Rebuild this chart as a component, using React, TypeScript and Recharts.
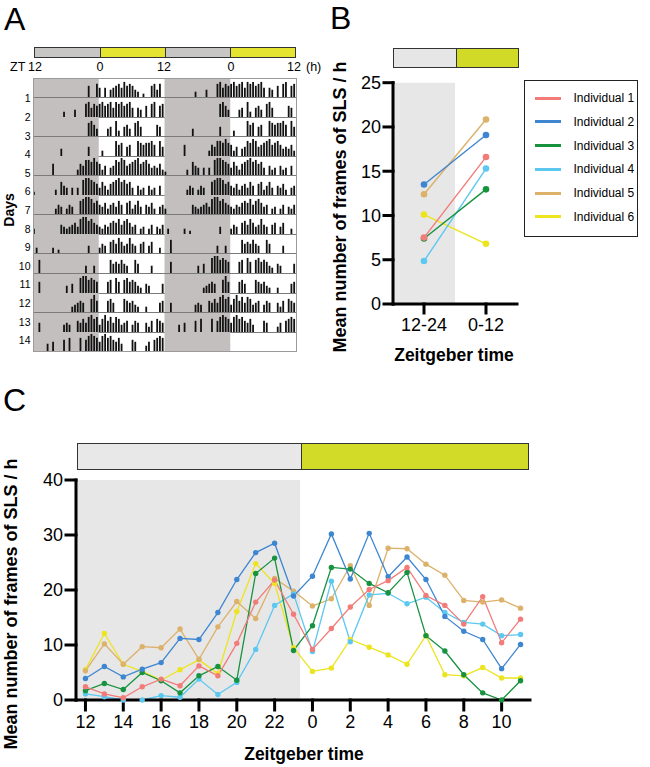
import React from 'react'
import { LineChart, Line, BarChart, Bar, XAxis, YAxis, ReferenceArea, ReferenceLine } from 'recharts'

const FONT = '"Liberation Sans", Arial, Helvetica, sans-serif'

// ---- shared series info ----
const individuals = ['Individual 1', 'Individual 2', 'Individual 3', 'Individual 4', 'Individual 5', 'Individual 6']
const colors = ['#f27c7a', '#3e86d0', '#17923f', '#5cc8f0', '#dcb16a', '#ece41e']

// ---- panel B: mean per phase ----
const phaseLabels = ['12-24', '0-12']
const phaseInd1 = [7.5, 16.6]
const phaseInd2 = [13.5, 19.1]
const phaseInd3 = [7.4, 12.95]
const phaseInd4 = [4.85, 15.3]
const phaseInd5 = [12.4, 20.85]
const phaseInd6 = [10.1, 6.8]

// ---- panel C: hourly means ----
const zeitgeberHours = [12, 13, 14, 15, 16, 17, 18, 19, 20, 21, 22, 23, 0, 1, 2, 3, 4, 5, 6, 7, 8, 9, 10, 11]
const hourTicks = [0, 2, 4, 6, 8, 10, 12, 14, 16, 18, 20, 22]
const hourInd1 = [2.4, 1.1, 0.4, 2.4, 3.8, 2.6, 6.2, 4.4, 10.3, 17.8, 21.8, 15.6, 9.2, 13.0, 16.9, 20.1, 21.7, 24.1, 19.0, 17.2, 13.8, 18.8, 10.4, 14.7]
const hourInd2 = [3.9, 6.1, 4.2, 5.6, 6.8, 11.2, 11.0, 15.9, 21.9, 26.8, 28.5, 18.9, 22.5, 30.2, 22.0, 30.3, 22.4, 26.0, 21.9, 15.2, 12.5, 11.0, 5.7, 10.1]
const hourInd3 = [1.7, 3.0, 1.9, 5.0, 3.5, 1.3, 4.4, 6.1, 3.6, 23.0, 25.8, 9.0, 13.5, 24.1, 23.8, 21.2, 19.5, 23.2, 11.7, 8.9, 4.6, 1.3, 0, 3.5]
const hourInd4 = [1.1, 0.6, 0, 0, 0.8, 0.5, 3.8, 1.0, 3.2, 9.2, 17.2, 19.3, 8.8, 21.6, 10.6, 19.1, 19.4, 17.5, 18.7, 15.9, 14.1, 13.8, 11.7, 11.9]
const hourInd5 = [5.3, 10.2, 6.5, 9.7, 9.5, 12.9, 7.4, 13.3, 17.9, 14.8, 22.1, 19.8, 17.1, 18.4, 24.4, 17.2, 27.6, 27.5, 24.7, 22.7, 18.1, 17.8, 18.2, 16.7]
const hourInd6 = [5.5, 12.1, 6.5, 5.2, 3.6, 5.5, 7.3, 4.8, 16.1, 24.8, 21.2, 9.5, 5.2, 5.8, 11.0, 9.6, 8.2, 6.5, 11.7, 4.6, 4.4, 5.9, 4.0, 4.0]

// ---- panel A: actogram, 48 half-hour bins per day starting at ZT12 ----
const actDay1 = [0,0,0,0,0,0,0,0,0,0, 0,0,0,0,0,0,0,0,0,0, 6,0,0,7,5,0,5,0,4,5, 6,7,5,8,6,7,6,4,3,0, 2,0,0,6,7,4,7,0]
const actDay2 = [0,0,0,0,0,0,0,0,0,0, 0,3,0,0,0,4,0,0,0,7, 8,5,7,6,7,8,6,7,8,5, 8,7,8,6,7,8,5,0,5,4, 0,6,0,7,8,0,6,7]
const actDay3 = [0,0,0,0,0,0,0,0,0,0, 0,0,0,0,0,0,0,0,0,0, 7,8,6,4,0,0,0,4,5,0, 8,3,0,5,6,4,0,7,8,5, 0,0,0,0,0,6,5,0]
const actDay4 = [0,0,0,0,0,0,0,0,0,0, 4,0,0,0,0,0,0,0,0,0, 5,0,0,0,0,3,0,0,0,0, 8,6,7,0,5,6,0,0,8,7, 6,7,7,8,6,0,8,5]
const actDay5 = [0,0,0,0,0,0,0,6,0,0, 0,0,0,0,0,0,3,6,5,8, 8,7,9,7,6,3,5,0,4,5, 8,7,9,8,5,6,7,8,9,6, 7,8,6,4,5,4,6,3]
const actDay6 = [2,0,0,0,0,0,0,0,3,0, 7,5,4,0,4,0,4,0,8,9, 9,8,7,6,4,7,5,3,6,7, 8,9,7,8,6,7,4,0,5,3, 4,0,5,3,4,0,5,0]
const actDay7 = [0,0,0,0,0,0,0,0,3,5, 4,0,3,5,4,0,0,7,8,9, 9,8,6,7,5,4,6,3,5,6, 4,7,5,0,6,7,3,5,7,4, 0,5,4,6,3,0,4,5]
const actDay8 = [3,0,0,0,0,0,0,0,0,0, 5,4,3,4,5,6,4,8,9,9, 7,8,6,5,4,3,5,4,6,7, 6,8,5,7,8,6,4,5,0,3, 4,0,3,5,0,4,3,5]
const actDay9 = [0,3,0,0,0,0,0,3,0,2, 0,0,0,0,0,0,0,0,0,0, 4,0,0,0,3,5,4,0,6,7, 5,8,6,4,5,8,5,4,0,5, 6,0,4,6,0,0,3,0]
const actDay10 = [0,0,7,0,0,0,0,0,0,0, 0,0,0,0,0,0,0,0,0,4, 0,0,4,0,0,0,0,0,7,5, 6,5,7,5,4,0,0,7,5,0, 0,0,0,4,0,0,0,0]
const actDay11 = [0,0,6,0,0,0,0,0,0,0, 0,0,4,0,5,0,0,8,9,9, 7,8,7,6,0,0,0,6,7,0, 8,6,0,7,8,6,7,6,4,3, 0,5,4,0,0,0,0,5]
const actDay12 = [0,0,0,0,0,0,0,0,0,0, 0,0,0,0,3,4,5,6,5,0, 0,7,9,6,0,0,0,6,7,5, 0,0,0,7,6,5,6,4,3,0, 0,3,0,0,0,0,5,6]
const actDay13 = [0,0,5,0,0,0,0,0,0,0, 0,4,5,4,0,0,6,5,7,5, 8,9,7,8,4,7,9,6,8,5, 8,7,4,5,6,0,4,6,5,0, 0,5,3,6,0,7,6,5]
const actDay14 = [0,0,0,0,0,4,0,5,0,0, 0,6,0,7,0,0,0,7,0,6, 8,9,8,7,5,8,9,7,8,6, 5,7,4,0,0,0,6,5,0,0, 0,3,5,0,6,7,8,7]
const actDays = [actDay1, actDay2, actDay3, actDay4, actDay5, actDay6, actDay7, actDay8, actDay9, actDay10, actDay11, actDay12, actDay13, actDay14]

const seriesKeys = ['ind1', 'ind2', 'ind3', 'ind4', 'ind5', 'ind6']
const phaseSeries = [phaseInd1, phaseInd2, phaseInd3, phaseInd4, phaseInd5, phaseInd6]
const hourSeries = [hourInd1, hourInd2, hourInd3, hourInd4, hourInd5, hourInd6]

const phaseData = phaseLabels.map((_, i) => {
  const row: Record<string, number> = { x: i + 0.5 }
  seriesKeys.forEach((k, s) => (row[k] = phaseSeries[s][i]))
  return row
})

const hourData = zeitgeberHours.map((_, i) => {
  const row: Record<string, number> = { x: i }
  seriesKeys.forEach((k, s) => (row[k] = hourSeries[s][i]))
  return row
})

// double plot: each row = day r then day r+1
const actRows = actDays.map((day, r) => {
  const next = actDays[r + 1]
  return Array.from({ length: 96 }, (_, k) => ({
    x: k + 0.5,
    v: k < 48 ? day[k] : next ? next[k - 48] : null,
  }))
})

// draw Individual 1 on top
const drawOrder = [5, 4, 3, 2, 1, 0]

const ROW_H = 19.55
const axisStyle = { stroke: '#000', strokeWidth: 3, strokeLinecap: 'square' as const }
const tickStyle = { fill: '#000', fontSize: 18, fontFamily: FONT }

const abs = (left: number, top: number, extra: React.CSSProperties = {}): React.CSSProperties => ({
  position: 'absolute',
  left,
  top,
  ...extra,
})

const VLabel = ({ text, cx, cy, size }: { text: string; cx: number; cy: number; size: number }) => (
  <div
    style={abs(cx, cy, {
      transform: 'translate(-50%, -50%) rotate(-90deg)',
      whiteSpace: 'nowrap',
      fontWeight: 'bold',
      fontSize: size,
      lineHeight: 1,
    })}
  >
    {text}
  </div>
)

const HLabel = ({ text, cx, cy, size, bold }: { text: string; cx: number; cy: number; size: number; bold?: boolean }) => (
  <div
    style={abs(cx, cy, {
      transform: 'translate(-50%, -50%)',
      whiteSpace: 'nowrap',
      fontWeight: bold ? 'bold' : 'normal',
      fontSize: size,
      lineHeight: 1,
    })}
  >
    {text}
  </div>
)

const LightBar = ({ left, top, width, height, split, dark, light }: any) => (
  <div
    style={abs(left, top, {
      width,
      height,
      boxSizing: 'border-box',
      border: '1.5px solid #333',
      display: 'flex',
    })}
  >
    {split.map((w: number, i: number) => (
      <div
        key={i}
        style={{
          width: w,
          height: '100%',
          background: i % 2 === 0 ? dark : light,
          borderLeft: i > 0 ? '1.5px solid #333' : 'none',
          boxSizing: 'border-box',
        }}
      />
    ))}
  </div>
)

function ActogramRow({ data }: { data: { x: number; v: number | null }[] }) {
  return (
    <BarChart width={263} height={20} data={data} margin={{ top: 0, right: 0, bottom: 0.45, left: 0 }}>
      <XAxis type="number" dataKey="x" domain={[0, 96]} hide />
      <YAxis domain={[0, 10]} hide />
      <ReferenceArea x1={0} x2={24} y1={0} y2={10} fill="#c3bfbf" fillOpacity={1} stroke="none" />
      <ReferenceArea x1={48} x2={72} y1={0} y2={10} fill="#c3bfbf" fillOpacity={1} stroke="none" />
      <Bar dataKey="v" fill="#111" barSize={1.8} isAnimationActive={false} />
      <ReferenceLine y={0} stroke="#7a7a7a" strokeWidth={1.2} />
    </BarChart>
  )
}

export default function App() {
  return (
    <div
      style={{
        position: 'absolute',
        left: 0,
        top: 0,
        width: 650,
        height: 767,
        background: '#fff',
        fontFamily: FONT,
        color: '#000',
        overflow: 'hidden',
      }}
    >
      {/* panel letters */}
      <div style={abs(4, 3, { fontSize: 32, lineHeight: '32px' })}>A</div>
      <div style={abs(330, 2, { fontSize: 32, lineHeight: '32px' })}>B</div>
      <div style={abs(3, 384, { fontSize: 32, lineHeight: '32px' })}>C</div>

      {/* ---- A ---- */}
      <LightBar left={34} top={46.5} width={262} height={11} split={[66, 65, 66, 65]} dark="#c8c5c5" light="#e4e431" />
      <div style={abs(10, 66.7, { fontSize: 12.5, lineHeight: 1, transform: 'translateY(-50%)' })}>ZT</div>
      {[35, 100, 164, 231, 294].map((x, i) => (
        <HLabel key={i} text={i % 2 === 0 ? '12' : '0'} cx={x} cy={66.7} size={12.5} />
      ))}
      <div style={abs(306, 66.7, { fontSize: 12.5, lineHeight: 1, transform: 'translateY(-50%)' })}>(h)</div>

      <div style={abs(33, 78, { width: 263, height: ROW_H * 14 })}>
        {actRows.map((row, r) => (
          <div key={r} style={abs(0, r * ROW_H)}>
            <ActogramRow data={row} />
          </div>
        ))}
        <div
          style={abs(-0.5, -0.5, {
            width: 264,
            height: ROW_H * 14 + 1,
            border: '1px solid #9a9a9a',
            boxSizing: 'border-box',
          })}
        />
      </div>
      {actDays.map((_, r) => (
        <div
          key={r}
          style={abs(0, 98.3 + 18.6 * r, {
            width: 30.5,
            textAlign: 'right',
            fontSize: 10.5,
            lineHeight: 1,
            transform: 'translateY(-50%)',
          })}
        >
          {r + 1}
        </div>
      ))}
      <VLabel text="Days" cx={9} cy={210} size={14} />

      {/* ---- B ---- */}
      <LightBar left={393} top={47.5} width={126} height={20} split={[63, 63]} dark="#e7e6e7" light="#d1da27" />
      <div style={abs(340, 60)}>
        <LineChart width={190} height={290} data={phaseData} margin={{ top: 22.7, right: 13, bottom: 0, left: 0 }}>
          <ReferenceArea x1={0} x2={1} y1={0} y2={25} fill="#e8e7e8" fillOpacity={1} stroke="none" />
          <XAxis
            type="number"
            dataKey="x"
            domain={[0, 2]}
            ticks={[0.5, 1.5]}
            tickFormatter={(v: number) => phaseLabels[Math.floor(v)]}
            height={46}
            axisLine={axisStyle}
            tickLine={axisStyle}
            tickSize={9}
            tickMargin={5}
            tick={tickStyle}
          />
          <YAxis
            domain={[0, 25]}
            ticks={[0, 5, 10, 15, 20, 25]}
            width={53}
            axisLine={axisStyle}
            tickLine={axisStyle}
            tickSize={9}
            tickMargin={3}
            tick={tickStyle}
          />
          {drawOrder.map((s) => (
            <Line
              key={seriesKeys[s]}
              type="linear"
              dataKey={seriesKeys[s]}
              stroke={colors[s]}
              strokeWidth={1.4}
              dot={{ r: 3.3, fill: colors[s], stroke: 'none' }}
              isAnimationActive={false}
            />
          ))}
        </LineChart>
      </div>
      <VLabel text="Mean number of frames of SLS / h" cx={340} cy={207} size={18} />
      <HLabel text="Zeitgeber time" cx={454} cy={356} size={17.5} bold />

      {/* legend B */}
      <div
        style={abs(524, 80, {
          width: 114,
          height: 157,
          border: '1.5px solid #222',
          boxSizing: 'border-box',
        })}
      >
        {individuals.map((name, i) => (
          <React.Fragment key={name}>
            <div style={abs(9.5, 17.2 + i * 23.7 - 1.5, { width: 26, height: 3, background: colors[i] })} />
            <div style={abs(48.5, 17.2 + i * 23.7 - 7, { fontSize: 12, lineHeight: '14px', whiteSpace: 'nowrap' })}>
              {name}
            </div>
          </React.Fragment>
        ))}
      </div>

      {/* ---- C ---- */}
      <LightBar left={77} top={443} width={452} height={26.5} split={[224, 228]} dark="#e9e8e9" light="#d2db27" />
      <div style={abs(0, 460)}>
        <LineChart width={560} height={280} data={hourData} margin={{ top: 20, right: 30, bottom: 0, left: 0 }}>
          <ReferenceArea x1={-0.5} x2={11.35} y1={0} y2={40} fill="#e8e7e8" fillOpacity={1} stroke="none" />
          <XAxis
            type="number"
            dataKey="x"
            domain={[-0.5, 23.5]}
            ticks={hourTicks}
            tickFormatter={(v: number) => String(zeitgeberHours[v])}
            height={40}
            axisLine={axisStyle}
            tickLine={axisStyle}
            tickSize={10}
            tickMargin={5}
            tick={tickStyle}
          />
          <YAxis
            domain={[0, 40]}
            ticks={[0, 10, 20, 30, 40]}
            width={76}
            axisLine={axisStyle}
            tickLine={axisStyle}
            tickSize={10}
            tickMargin={3}
            tick={tickStyle}
          />
          {drawOrder.map((s) => (
            <Line
              key={seriesKeys[s]}
              type="linear"
              dataKey={seriesKeys[s]}
              stroke={colors[s]}
              strokeWidth={1.3}
              dot={{ r: 2.7, fill: colors[s], stroke: 'none' }}
              isAnimationActive={false}
            />
          ))}
        </LineChart>
      </div>
      <VLabel text="Mean number of frames of SLS / h" cx={11} cy={604} size={18} />
      <HLabel text="Zeitgeber time" cx={304} cy={755} size={17.5} bold />
    </div>
  )
}
